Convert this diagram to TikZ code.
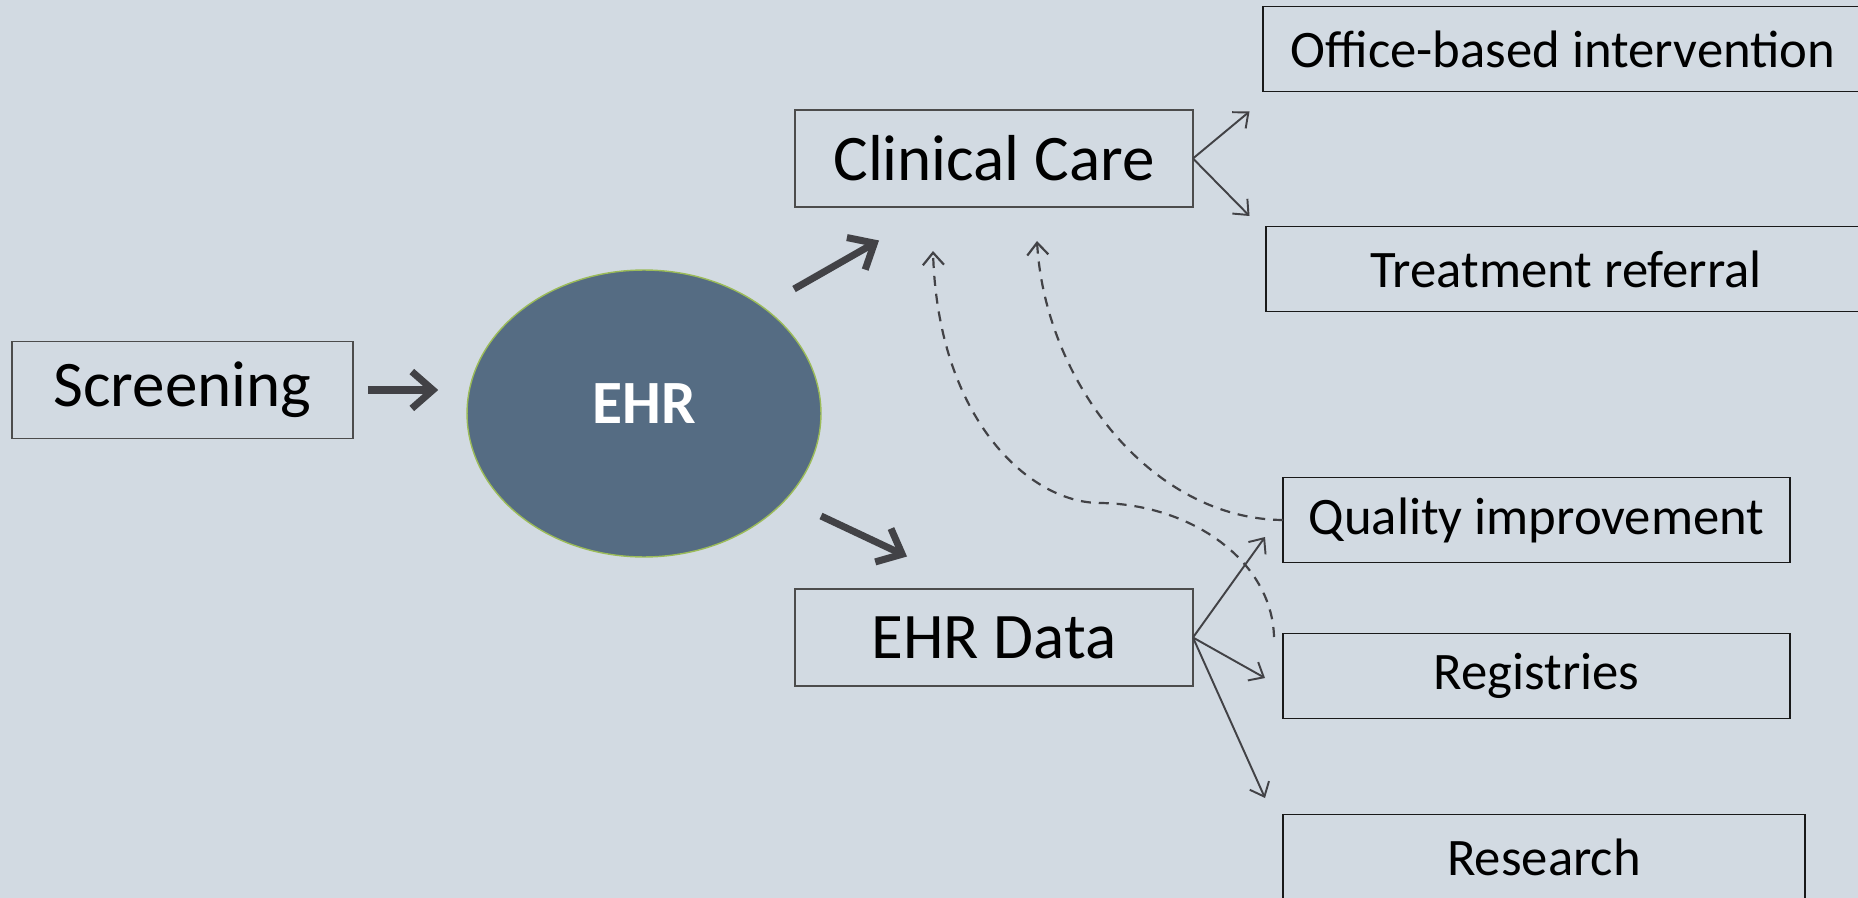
\documentclass[tikz,border=0pt]{standalone}
\usepackage{fontspec}
\setmainfont{Carlito}
\usetikzlibrary{shapes.geometric, arrows.meta}
\definecolor{bgblue}{RGB}{210,218,226}
\definecolor{ehrfill}{RGB}{85,108,131}
\definecolor{ehrline}{RGB}{155,187,89}
\definecolor{linegray}{RGB}{66,66,70}
\tikzstyle{box} = [rectangle, draw=black!70, line width=0.9pt, inner sep=0pt, outer sep=0pt, minimum width=7.96cm, minimum height=1.94cm, text centered, font=\fontsize{37}{44}\selectfont]
\tikzstyle{outbox} = [rectangle, draw=black!90, line width=1pt, inner sep=0pt, outer sep=0pt, minimum height=1.7cm, text centered, font=\fontsize{30}{36}\selectfont]
\tikzstyle{hub} = [ellipse, draw=ehrline, line width=0.8pt, fill=ehrfill, minimum width=7.08cm, minimum height=5.74cm, inner sep=0pt, outer sep=0pt, text=white, font=\fontsize{35}{42}\selectfont\bfseries]
\tikzstyle{bigarrow} = [line width=4pt, draw=linegray, line join=round, -{Straight Barb[length=12pt,width=21pt]}]
\tikzstyle{arrow} = [line width=1.1pt, draw=linegray, -{Straight Barb[length=7pt,width=12pt]}]
\tikzstyle{dasharrow} = [arrow, line width=1.25pt, dash pattern=on 5.7pt off 4.5pt]

\begin{document}
\begin{tikzpicture}[x=0.02cm, y=-0.02cm]
	\useasboundingbox (0,0) rectangle (1858,898);
	\clip (0,0) rectangle (1858,898);
	\fill [bgblue] (0,0) rectangle (1858,898);
	% left part
	\node (scr) [box, minimum width=6.82cm] at (182.5,390) {Screening};
	\node (ehr) [hub] at (644,413.5) {\raisebox{11pt}{EHR}};
	\node (care) [box] at (994,158.5) {Clinical Care};
	\node (data) [box] at (994,637.5) {EHR Data};
	% right part
	\node (office) [outbox, minimum width=12cm] at (1563,49) {Office-based intervention};
	\node (treat) [outbox, minimum width=12cm] at (1566,269) {Treatment referral};
	\node (qi) [outbox, minimum width=10.14cm] at (1536.5,520) {Quality improvement};
	\node (reg) [outbox, minimum width=10.14cm] at (1536.5,676) {Registries};
	\node (res) [outbox, minimum width=10.44cm] at (1544,857) {Research};
	% free ends
	\coordinate (up0) at (794,289);
	\coordinate (up1) at (879,240.5);
	\coordinate (dn0) at (821,516);
	\coordinate (dn1) at (907,556.5);
	\coordinate (co) at (1249.5,111.5);
	\coordinate (ct) at (1249.5,216);
	\coordinate (dq) at (1265,537);
	\coordinate (dr) at (1265,678);
	\coordinate (ds) at (1265,798);
	\coordinate (tipa) at (933,251);
	\coordinate (tipb) at (1037,241);
	\coordinate (regtop) at (1274,637);
	% thick arrows
	\draw [bigarrow, shorten <=8.5pt, shorten >=16.4pt] (scr.east) -- (scr.east -| ehr.west);
	\draw [bigarrow] (up0) -- (up1);
	\draw [bigarrow] (dn0) -- (dn1);
	% thin arrows
	\draw [arrow] (care.east) -- (co);
	\draw [arrow] (care.east) -- (ct);
	\draw [arrow] (data.east) -- (dq);
	\draw [arrow] (data.east) -- (dr);
	\draw [arrow] (data.east) -- (ds);
	% feedback
	\draw [dasharrow] (qi.west) .. controls (1150,519) and (1045,380) .. (tipb);
	\draw [dasharrow] (regtop) .. controls (1272,560) and (1190,504) .. (1100,503) .. controls (1030,503) and (938,420) .. (tipa);
\end{tikzpicture}
\end{document}
